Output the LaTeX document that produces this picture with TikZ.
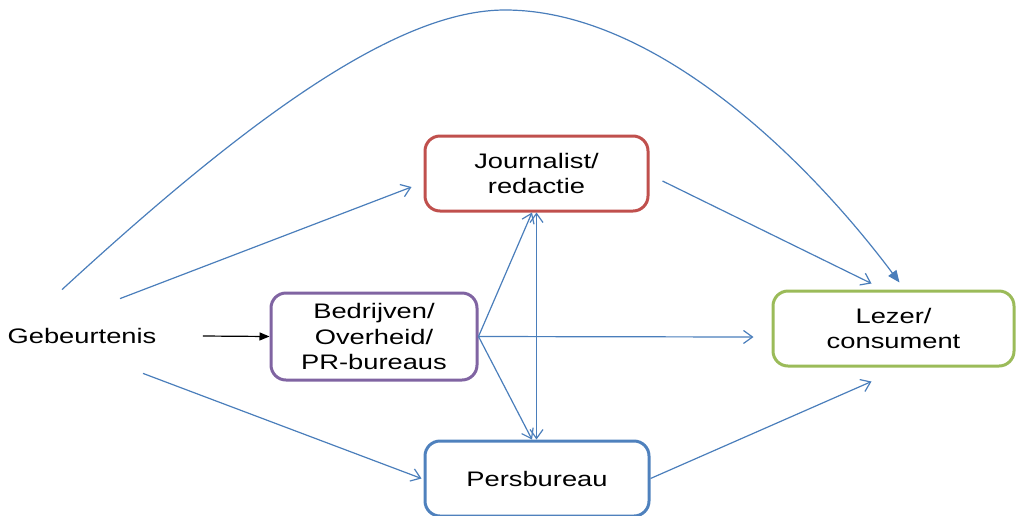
\documentclass[tikz,border=0pt]{standalone}
\usepackage{fontspec}
\setmainfont{Liberation Sans}[FakeStretch=1.3]
\usetikzlibrary{arrows.meta}

\definecolor{boxred}{HTML}{C0504D}
\definecolor{boxpurple}{HTML}{8064A2}
\definecolor{boxgreen}{HTML}{9BBB59}
\definecolor{boxblue}{HTML}{4F81BD}
\definecolor{linkblue}{HTML}{4A7EBB}

\begin{document}
\begin{tikzpicture}[
		x=0.5pt, y=-0.5pt,
		box/.style={draw, rounded corners=7.5pt, line width=1.5pt, align=center, fill=white, font=\fontsize{10.5}{12.75}\selectfont, minimum height=37.5pt},
		arrow/.style={-{Straight Barb[length=4.5pt, width=6.5pt]}, draw=linkblue, line width=0.6pt},
		both/.style={{Straight Barb[length=4.5pt, width=6.5pt]}-{Straight Barb[length=4.5pt, width=6.5pt]}, draw=linkblue, line width=0.6pt}
	]
	\useasboundingbox (0,0) rectangle (1016,515);

	\node[font=\fontsize{10.5}{12.75}\selectfont, inner sep=0pt, minimum height=37pt] (event) at (82,336) {Gebeurtenis};
	\node[box, draw=boxred, minimum width=111.5pt] (journalist) at (536.5,173.5) {Journalist/\\redactie};
	\node[box, draw=boxpurple, minimum width=103pt, minimum height=43.5pt] (companies) at (374,336.5) {Bedrijven/\\Overheid/\\PR-bureaus};
	\node[box, draw=boxblue, minimum width=112pt] (press) at (537,478.5) {Persbureau};
	\node[box, draw=boxgreen, minimum width=120.5pt] (reader) at (893.5,328.5) {Lezer/\\consument};

	% bypass over the top
	\coordinate (top) at (505,10);
	\draw[draw=linkblue, line width=0.6pt, -{Triangle[length=6pt, width=5pt]}]
		([shift={(-10pt,4.5pt)}]event.north) .. controls (255,112) and (400,10) .. (top)
		.. controls (650,10) and (800,150) .. ([shift={(3pt,3.5pt)}]reader.north);

	\draw[-{Triangle[length=5pt, width=4pt]}, line width=0.6pt] ([xshift=23pt]event.east) -- (companies.west);
	\draw[arrow] ([xshift=19pt]event.north) -- ([shift={(-6pt,-6.75pt)}]journalist.west);
	\draw[arrow] ([xshift=30.5pt]event.south) -- ([xshift=-1pt]press.west);

	\draw[arrow] (companies.east) -- ([xshift=-2.25pt]journalist.south);
	\draw[arrow] (companies.east) -- ([xshift=-2.5pt]press.north);
	\draw[arrow] (companies.east) -- ([shift={(-9pt,-4.25pt)}]reader.west);
	\draw[both] (journalist.south) -- (journalist.south |- press.north);

	\draw[arrow] ([shift={(6.5pt,-3.75pt)}]journalist.east) -- ([shift={(-11pt,3pt)}]reader.north);
	\draw[arrow] (press.east) -- ([shift={(-11pt,-7pt)}]reader.south);
\end{tikzpicture}
\end{document}
